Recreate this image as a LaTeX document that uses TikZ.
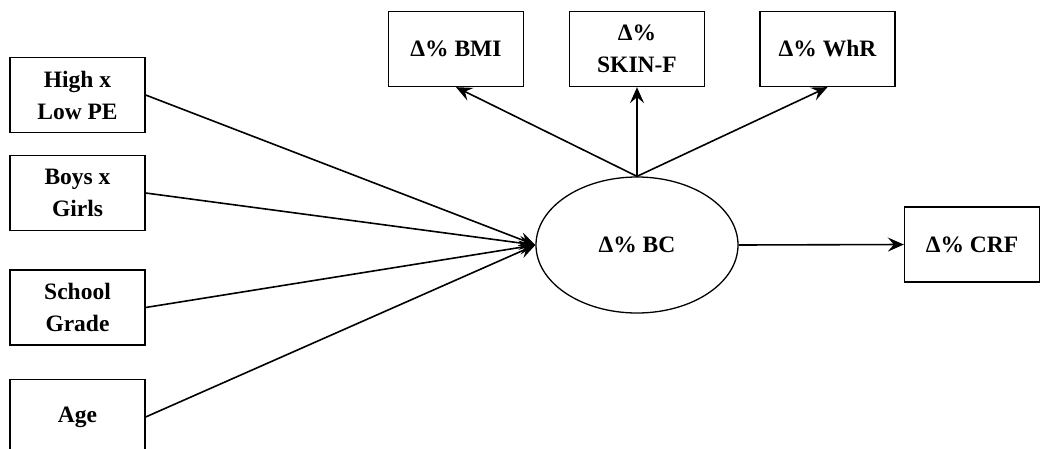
\documentclass[tikz,border=0pt]{standalone}
\usepackage{fontspec}
\setmainfont{Liberation Serif}
\usepackage{tikz}
\usetikzlibrary{arrows.meta,shapes.geometric}

\begin{document}
\begin{tikzpicture}[x=1pt,y=-1pt,
    varbox/.style={draw,line width=1.3pt,minimum width=135pt,minimum height=75pt,inner sep=0pt,
        align=center,font=\fontsize{23.5}{32}\selectfont\bfseries},
    latent/.style={draw,ellipse,line width=1.3pt,minimum width=202pt,minimum height=136pt,inner sep=0pt,
        font=\fontsize{23.5}{32}\selectfont\bfseries},
    path/.style={line width=1.6pt,-{Stealth[length=16pt,width=14pt,inset=6pt]}}]
    \useasboundingbox (0,0) rectangle (1053,448);

    % Predictors
    \node[varbox] (hilo) at (77.5,95) {High x\\Low PE};
    \node[varbox] (sex) at (77.5,193) {Boys x\\Girls};
    \node[varbox] (grade) at (77.5,307.5) {School\\Grade};
    \node[varbox] (age) at (77.5,417) {Age};

    % Body composition
    \node[latent] (bc) at (637,245) {Δ\% BC};

    % Indicators
    \node[varbox] (bmi) at (456,49) {Δ\% BMI};
    \node[varbox] (skin) at (637,49) {Δ\%\\SKIN-F};
    \node[varbox] (whr) at (827.5,49) {Δ\% WhR};

    % Outcome
    \node[varbox] (crf) at (972,244.5) {Δ\% CRF};

    % Paths
    \draw[path] (hilo.east) -- (bc.west);
    \draw[path] (sex.east) -- (bc.west);
    \draw[path] (grade.east) -- (bc.west);
    \draw[path] (age.east) -- (bc.west);
    \draw[path] (bc.north) -- (bmi.south);
    \draw[path] (bc.north) -- (skin.south);
    \draw[path] (bc.north) -- (whr.south);
    \draw[path] (bc.east) -- (crf.west);
\end{tikzpicture}
\end{document}
